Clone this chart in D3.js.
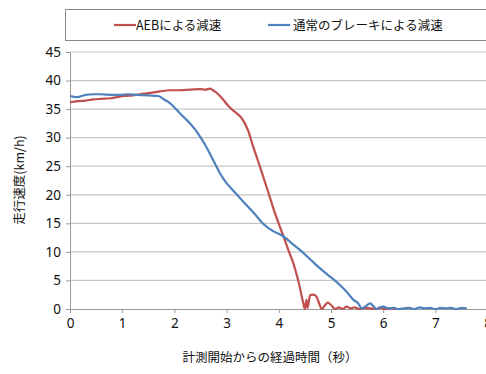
<!DOCTYPE html>
<html><head><meta charset="utf-8">
<script src="https://cdn.jsdelivr.net/npm/d3@7/dist/d3.min.js"></script>
<style>
html,body{margin:0;padding:0;background:#fff;}
svg{display:block;font-family:"Noto Sans CJK JP","Noto Sans",sans-serif;}
</style></head><body>
<svg id="chart" width="486" height="374"></svg>
<script>
const seriesNames = ["AEBによる減速", "通常のブレーキによる減速"];
const timeAEB = [0, 0.15, 0.3, 0.45, 0.6, 0.77, 0.9, 1.05, 1.2, 1.34, 1.5, 1.72, 1.9, 2.1, 2.3, 2.49, 2.6, 2.68, 2.74, 2.84, 2.94, 3.03, 3.12, 3.2, 3.29, 3.41, 3.51, 3.6, 3.7, 3.8, 3.9, 4.0, 4.09, 4.18, 4.28, 4.38, 4.47, 4.50, 4.53, 4.55, 4.60, 4.66, 4.72, 4.78, 4.82, 4.88, 4.94, 5.0, 5.08, 5.15, 5.22, 5.3, 5.38, 5.45, 5.55, 5.65, 5.75, 5.85, 5.95, 6.05, 6.15, 6.25];
const speedAEB = [36.2, 36.4, 36.5, 36.7, 36.8, 36.9, 37.1, 37.3, 37.4, 37.6, 37.8, 38.1, 38.3, 38.3, 38.4, 38.5, 38.4, 38.6, 38.3, 37.6, 36.6, 35.6, 34.8, 34.2, 33.4, 31.3, 28.4, 26.0, 23.2, 20.4, 17.5, 14.9, 12.7, 10.4, 8.0, 4.7, 1.0, 0, 1.6, 0.2, 2.4, 2.5, 2.2, 0.8, 0, 0.6, 1.1, 0.7, 0, 0.3, 0, 0.4, 0.1, 0.3, 0, 0.2, 0.1, 0, 0.2, 0, 0.1, 0];
const timeNormal = [0, 0.13, 0.3, 0.45, 0.6, 0.8, 0.95, 1.1, 1.3, 1.5, 1.69, 1.82, 1.92, 2.01, 2.10, 2.2, 2.30, 2.40, 2.49, 2.58, 2.68, 2.78, 2.87, 2.97, 3.07, 3.17, 3.26, 3.42, 3.58, 3.68, 3.77, 3.9, 4.09, 4.25, 4.41, 4.6, 4.79, 4.95, 5.06, 5.17, 5.3, 5.43, 5.52, 5.59, 5.67, 5.75, 5.81, 5.87, 5.94, 6.0, 6.1, 6.2, 6.3, 6.4, 6.5, 6.6, 6.7, 6.8, 6.9, 7.0, 7.1, 7.2, 7.3, 7.4, 7.5, 7.6];
const speedNormal = [37.3, 37.1, 37.5, 37.6, 37.6, 37.5, 37.5, 37.6, 37.5, 37.4, 37.3, 36.6, 36.0, 35.2, 34.3, 33.4, 32.5, 31.4, 30.2, 28.9, 27.2, 25.4, 23.8, 22.4, 21.3, 20.3, 19.4, 17.8, 16.2, 15.1, 14.4, 13.6, 12.7, 11.5, 10.3, 8.7, 7.1, 5.9, 5.1, 4.2, 3.0, 1.6, 1.0, 0.1, 0.5, 1.0, 0.5, 0.0, 0.3, 0.4, 0.1, 0.2, 0, 0.1, 0.2, 0, 0.3, 0.1, 0.2, 0, 0.2, 0.1, 0.2, 0, 0.2, 0.1];
const xTicks = [0, 1, 2, 3, 4, 5, 6, 7, 8];
const yTicks = [0, 5, 10, 15, 20, 25, 30, 35, 40, 45];
const xTitle = "計測開始からの経過時間（秒）";
const yTitle = "走行速度(km/h)";

const colors = ["#c0504d", "#4f81bd"];
const svg = d3.select("#chart");
const x = d3.scaleLinear().domain([0, 8]).range([70, 487.6]);
const y = d3.scaleLinear().domain([0, 45]).range([309, 52]);

// gridlines
svg.append("g").selectAll("line").data(yTicks.filter(d => d > 0)).join("line")
  .attr("x1", x(0)).attr("x2", 486).attr("y1", d => y(d)).attr("y2", d => y(d))
  .attr("stroke", "#c6c6c6").attr("stroke-width", 1.2);

// y axis
const yAxis = svg.append("g").attr("transform", `translate(${x(0)},0)`)
  .call(d3.axisLeft(y).tickValues(yTicks).tickSize(4).tickPadding(5));
yAxis.select(".domain").attr("stroke", "#9a9a9a");
yAxis.selectAll(".tick line").attr("stroke", "#9a9a9a");
yAxis.selectAll("text").attr("font-size", 13.5).attr("fill", "#111")
  .attr("font-family", "'Liberation Sans Narrow','Noto Sans',sans-serif");

// x axis
const xAxis = svg.append("g").attr("transform", `translate(0,${y(0)})`)
  .call(d3.axisBottom(x).tickValues(xTicks).tickSize(4).tickPadding(5).tickSizeOuter(0));
xAxis.select(".domain").attr("stroke", "#9a9a9a");
xAxis.selectAll(".tick line").attr("stroke", "#9a9a9a");
xAxis.selectAll("text").attr("font-size", 13.5).attr("fill", "#111")
  .attr("font-family", "'Liberation Sans Narrow','Noto Sans',sans-serif");

// lines
const line = d3.line().x(d => x(d[0])).y(d => y(d[1])).curve(d3.curveMonotoneX);
const dataAEB = timeAEB.map((t, i) => [t, speedAEB[i]]);
const dataNormal = timeNormal.map((t, i) => [t, speedNormal[i]]);
svg.append("path").datum(dataAEB).attr("d", line).attr("fill", "none")
  .attr("stroke", colors[0]).attr("stroke-width", 2.2).attr("stroke-linejoin", "round");
svg.append("path").datum(dataNormal).attr("d", line).attr("fill", "none")
  .attr("stroke", colors[1]).attr("stroke-width", 2.2).attr("stroke-linejoin", "round");

// legend
svg.append("rect").attr("x", 65.5).attr("y", 9.5).attr("width", 430).attr("height", 31)
  .attr("fill", "#fff").attr("stroke", "#8a8a8a");
const legX = [114, 268];
const legTextX = [136, 293];
seriesNames.forEach((n, i) => {
  svg.append("line").attr("x1", legX[i]).attr("x2", legX[i] + 22).attr("y1", 25).attr("y2", 25)
    .attr("stroke", colors[i]).attr("stroke-width", 2.2);
  svg.append("text").attr("x", legTextX[i]).attr("y", 29.5).attr("font-size", 12.5)
    .attr("fill", "#111").text(n);
});

// titles
svg.append("text").attr("x", 270).attr("y", 362).attr("text-anchor", "middle")
  .attr("font-size", 12.5).attr("fill", "#111").text(xTitle);
svg.append("text").attr("transform", "translate(24,180) rotate(-90)").attr("text-anchor", "middle")
  .attr("font-size", 12.5).attr("fill", "#111").text(yTitle);
</script>
</body></html>
